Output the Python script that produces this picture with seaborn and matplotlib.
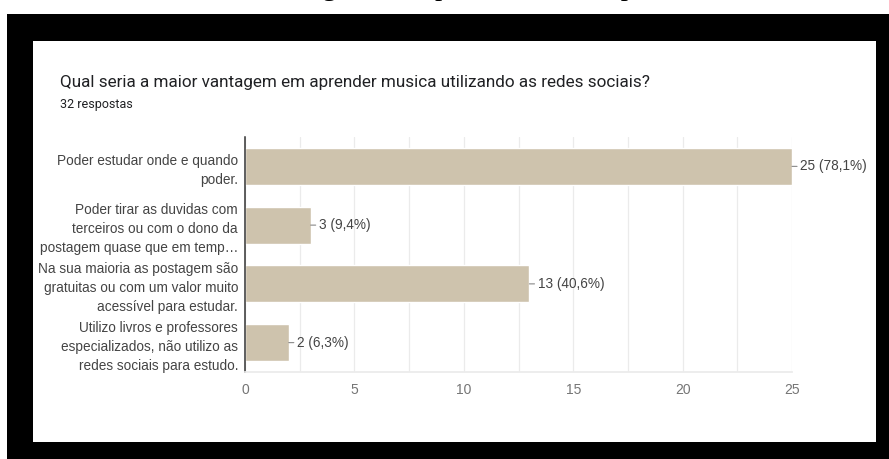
import matplotlib
matplotlib.use("Agg")
import matplotlib.pyplot as plt
import matplotlib.patches as mpatches
from matplotlib.ticker import MultipleLocator
import seaborn as sns
import pandas as pd

# -- data
caption = "Gráfico 8 – Vantagem em aprender música pelas redes sociais"
question = "Qual seria a maior vantagem em aprender musica utilizando as redes sociais?"
n_answers = "32 respostas"
categories = [
    "Poder estudar onde e quando\npoder.",
    "Poder tirar as duvidas com\nterceiros ou com o dono da\npostagem quase que em temp…",
    "Na sua maioria as postagem são\ngratuitas ou com um valor muito\nacessível para estudar.",
    "Utilizo livros e professores\nespecializados, não utilizo as\nredes sociais para estudo.",
]
counts = [25, 3, 13, 2]
percents = [78.1, 9.4, 40.6, 6.3]
x_ticks = [0, 5, 10, 15, 20, 25]

df = pd.DataFrame({"opcao": categories, "n": counts})

W, H = 889, 459
sns.set_theme(style="white")
plt.rcParams["font.family"] = ["Liberation Sans", "DejaVu Sans"]

fig = plt.figure(figsize=(W / 100, H / 100), dpi=100, facecolor="white")

def px(x0, y0, x1, y1):
    # pixel box (top-left origin) -> figure fraction rect
    return (x0 / W, 1 - y1 / H), (x1 - x0) / W, (y1 - y0) / H

# cropped caption of the document (only its lower part shows above the frame)
fig.text(476 / W, 1 + 5 / H, caption, ha="center", va="baseline",
         fontsize=21, family=["Liberation Serif"], color="black", zorder=-3)

xy, w, h = px(7, 14, W, H)
fig.patches.append(mpatches.Rectangle(xy, w, h, transform=fig.transFigure,
                                      facecolor="black", edgecolor="none", zorder=-2))
xy, w, h = px(33, 41, 876, 442)
fig.patches.append(mpatches.Rectangle(xy, w, h, transform=fig.transFigure,
                                      facecolor="white", edgecolor="none", zorder=-1))

fig.text(60 / W, 1 - 87 / H, question, ha="left", va="baseline",
         fontsize=12.3, family=["Roboto", "DejaVu Sans"], color="#202124")
fig.text(60 / W, 1 - 108 / H, n_answers, ha="left", va="baseline",
         fontsize=9, family=["Roboto", "DejaVu Sans"], color="#202124")

ax = fig.add_axes([245 / W, 1 - 372 / H, 547 / W, 235 / H])
ax.set_facecolor("none")

sns.barplot(data=df, x="n", y="opcao", orient="h", color="#CEC3AD",
            saturation=1, width=0.63, ax=ax)

ax.set_xlim(0, 25)
ax.set_ylim(3.5, -0.5)
ax.set_xticks(x_ticks)
ax.xaxis.set_minor_locator(MultipleLocator(2.5))
ax.grid(True, axis="x", which="both", color="#EBEBEB", lw=0.9)
ax.set_axisbelow(True)
ax.tick_params(axis="both", which="both", length=0)
ax.tick_params(axis="x", labelsize=10, labelcolor="#757575", pad=8)
ax.tick_params(axis="y", labelsize=9.8, labelcolor="#444444", pad=5)
for lab in ax.get_yticklabels():
    lab.set_multialignment("right")
    lab.set_linespacing(1.45)
ax.set_xlabel("")
ax.set_ylabel("")

for side in ["top", "right"]:
    ax.spines[side].set_visible(False)
ax.spines["bottom"].set_color("#EBEBEB")
ax.spines["left"].set_color("#333333")
ax.spines["left"].set_linewidth(1.1)

for i, (v, p) in enumerate(zip(counts, percents)):
    label = f"{v} ({p:.1f}%)".replace(".", ",")
    ax.annotate(label, xy=(v, i), xytext=(6, 0), textcoords="offset points",
                va="center", ha="left", fontsize=9.8, color="#444444",
                arrowprops=dict(arrowstyle="-", color="#888888", lw=0.8,
                                shrinkA=0, shrinkB=0),
                annotation_clip=False)

fig.savefig("out.png", dpi=100, facecolor=fig.get_facecolor())
